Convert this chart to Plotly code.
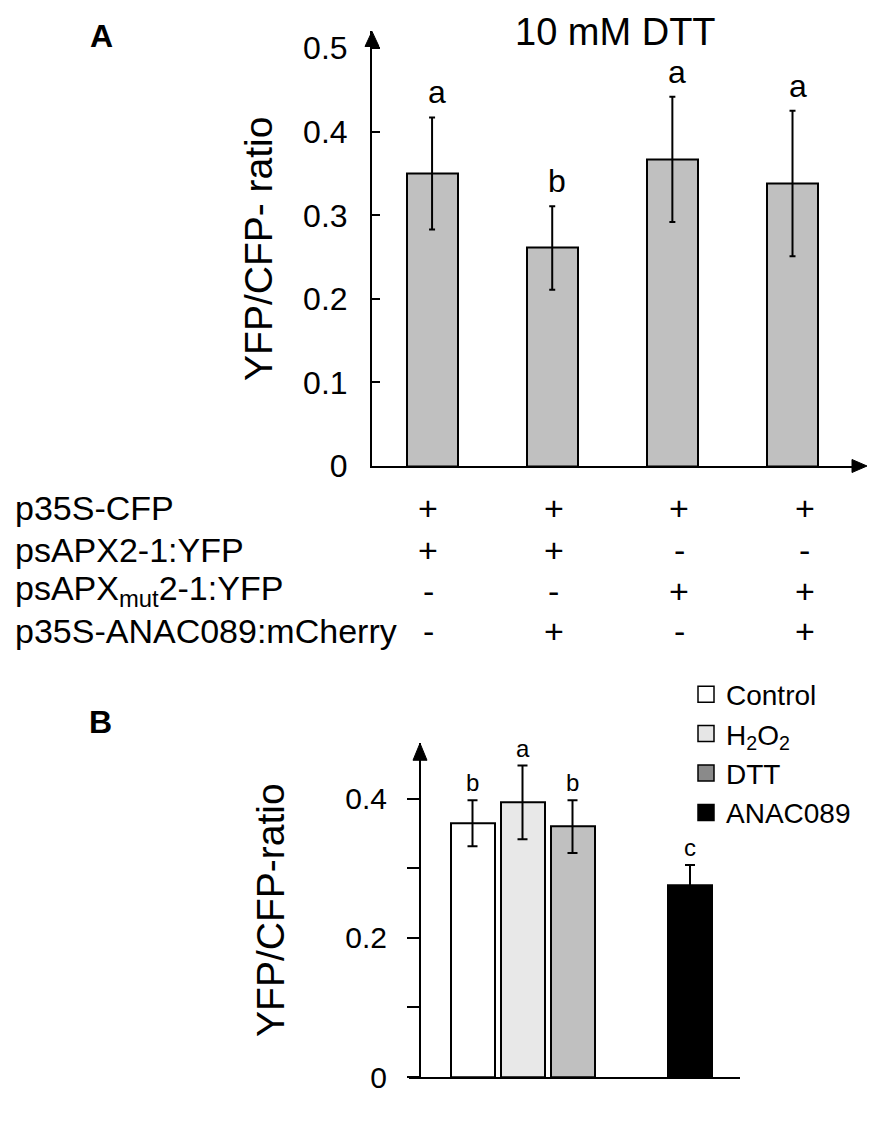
import plotly.graph_objects as go

# ---------------- data ----------------
# Panel A
a_values = [0.350, 0.261, 0.367, 0.338]
a_errors = [0.067, 0.050, 0.075, 0.087]
a_letters = ["a", "b", "a", "a"]
a_ticks = [0, 0.1, 0.2, 0.3, 0.4, 0.5]
a_ticktext = ["0", "0.1", "0.2", "0.3", "0.4", "0.5"]
a_title = "10 mM DTT"
row_labels = ["p35S-CFP", "psAPX2-1:YFP", "psAPX<sub>mut</sub>2-1:YFP", "p35S-ANAC089:mCherry"]
row_signs = [
    ["+", "+", "+", "+"],
    ["+", "+", "-", "-"],
    ["-", "-", "+", "+"],
    ["-", "+", "-", "+"],
]

# Panel B
b_categories = ["Control", "H<sub>2</sub>O<sub>2</sub>", "DTT", "ANAC089"]
b_values = [0.365, 0.395, 0.360, 0.276]
b_errors = [0.033, 0.053, 0.038, 0.029]
b_letters = ["b", "a", "b", "c"]
b_major_ticks = [0, 0.2, 0.4]
b_major_text = ["0", "0.2", "0.4"]
b_minor_ticks = [0.1, 0.3]

# ---------------- style / layout constants ----------------
W, H = 892, 1125
FONT = "Liberation Sans, Arial, sans-serif"
b_bar_colors = ["#ffffff", "#e8e8e8", "#c0c0c0", "#000000"]
b_legend_colors = ["#ffffff", "#e6e6e6", "#8a8a8a", "#000000"]
b_xpos = [0, 1, 2, 4.35]          # horizontal slot of each bar in panel B
sign_col_step, sign_col_shift = 1.044, -0.03
row_py = [516, 558, 600, 641]     # pixel rows of the construct table

# panel frames in pixels
A_LEFT, A_RIGHT, A_BOTTOM, A_TOP = 372, 860, 473, 31
A_ARROW_TIP_X = 867
B_LEFT, B_RIGHT, B_BOTTOM, B_TOP, B_YAXIS_X = 409, 740, 1094.5, 755, 420

def px_x(p):
    return p / W

def px_y(p):
    return 1 - p / H

fig = go.Figure()

# Panel A bars
a_x = list(range(len(a_values)))
fig.add_trace(go.Bar(
    x=a_x, y=a_values, width=0.424,
    marker=dict(color="#c0c0c0", line=dict(color="black", width=2)),
    error_y=dict(type="data", array=a_errors, color="black", thickness=2, width=3),
    showlegend=False, xaxis="x", yaxis="y",
))

# Panel B bars
fig.add_trace(go.Bar(
    x=b_xpos, y=b_values, width=0.88,
    marker=dict(color=b_bar_colors, line=dict(color="black", width=2)),
    error_y=dict(type="data", array=b_errors, color="black", thickness=2, width=5),
    showlegend=False, xaxis="x2", yaxis="y2",
))

# Legend entries for panel B
for name, col in zip(b_categories, b_legend_colors):
    fig.add_trace(go.Scatter(
        x=[None], y=[None], mode="markers", name=name,
        marker=dict(symbol="square", size=16, color=col, line=dict(color="black", width=1.5)),
        xaxis="x2", yaxis="y2",
    ))

ann = []
# significance letters
for i, (v, e, t) in enumerate(zip(a_values, a_errors, a_letters)):
    ann.append(dict(x=a_x[i], y=v + e + 0.03, xref="x", yref="y", text=t, showarrow=False,
                    xanchor="center", yanchor="middle", xshift=5,
                    font=dict(size=32, family=FONT)))
for i, (v, e, t) in enumerate(zip(b_values, b_errors, b_letters)):
    ann.append(dict(x=b_xpos[i], y=v + e + 0.025, xref="x2", yref="y2", text=t, showarrow=False,
                    xanchor="center", yanchor="middle",
                    font=dict(size=24, family=FONT)))

# construct table under panel A
for r, (lab, signs) in enumerate(zip(row_labels, row_signs)):
    ann.append(dict(x=px_x(13), y=px_y(row_py[r]), xref="paper", yref="paper", text=lab,
                    showarrow=False, xanchor="left", yanchor="middle",
                    font=dict(size=34, family=FONT)))
    for c, s in enumerate(signs):
        ann.append(dict(x=c * sign_col_step + sign_col_shift, y=px_y(row_py[r]), xref="x", yref="paper",
                        text=s, showarrow=False, xanchor="center", yanchor="middle",
                        font=dict(size=34, family=FONT)))

# titles / panel letters
ann.append(dict(x=px_x(615), y=px_y(32), xref="paper", yref="paper", text=a_title, showarrow=False,
                xanchor="center", yanchor="middle", font=dict(size=38, family=FONT)))
ann.append(dict(x=px_x(101), y=px_y(36), xref="paper", yref="paper", text="<b>A</b>", showarrow=False,
                xanchor="center", yanchor="middle", font=dict(size=32, family=FONT)))
ann.append(dict(x=px_x(100), y=px_y(733), xref="paper", yref="paper", text="<b>B</b>", showarrow=False,
                xanchor="center", yanchor="middle", font=dict(size=32, family=FONT)))

# axis arrowheads (filled triangles, sized in pixels, anchored at the axis ends)
shapes = [
    dict(type="path", xref="paper", yref="paper", xsizemode="pixel", ysizemode="pixel",
         xanchor=px_x(A_LEFT), yanchor=px_y(A_TOP), path="M-7,-15 L7,-15 L0,0 Z",
         fillcolor="black", line=dict(color="black", width=1)),
    dict(type="path", xref="paper", yref="paper", xsizemode="pixel", ysizemode="pixel",
         xanchor=px_x(A_ARROW_TIP_X), yanchor=px_y(A_BOTTOM), path="M-15,-6.5 L-15,6.5 L0,0 Z",
         fillcolor="black", line=dict(color="black", width=1)),
    dict(type="path", xref="paper", yref="paper", xsizemode="pixel", ysizemode="pixel",
         xanchor=px_x(B_YAXIS_X), yanchor=px_y(B_TOP), path="M-7,-17 L7,-17 L0,0 Z",
         fillcolor="black", line=dict(color="black", width=1)),
]

fig.update_layout(
    width=W, height=H,
    margin=dict(l=0, r=0, t=0, b=0),
    paper_bgcolor="white", plot_bgcolor="white",
    font=dict(family=FONT, color="black"),
    barmode="overlay",
    bargap=0,
    xaxis=dict(domain=[px_x(A_LEFT), px_x(A_RIGHT)], anchor="y",
               range=[-0.5, 3.62 - (A_ARROW_TIP_X - A_RIGHT) / 120.2],
               showline=True, linecolor="black", linewidth=2, showgrid=False, zeroline=False,
               showticklabels=False, ticks="", fixedrange=True),
    yaxis=dict(domain=[px_y(A_BOTTOM), px_y(A_TOP)], anchor="x", range=[0, 0.52],
               showline=True, linecolor="black", linewidth=2, showgrid=False, zeroline=False,
               ticks="inside", ticklen=8, tickwidth=2, tickcolor="black",
               tickvals=a_ticks, ticktext=a_ticktext, tickfont=dict(size=32, family=FONT),
               ticklabelstandoff=16,
               title=dict(text="YFP/CFP- ratio", font=dict(size=39, family=FONT), standoff=18),
               fixedrange=True),
    xaxis2=dict(domain=[px_x(B_LEFT), px_x(B_RIGHT)], anchor="y2", range=[-1.27, 5.35],
                showline=True, linecolor="black", linewidth=2, showgrid=False, zeroline=False,
                showticklabels=False, ticks="", fixedrange=True),
    yaxis2=dict(domain=[px_y(B_BOTTOM), px_y(B_TOP)], anchor="free", position=px_x(B_YAXIS_X),
                range=[0, 0.48],
                showline=True, linecolor="black", linewidth=2, showgrid=False, zeroline=False,
                ticks="outside", ticklen=12, tickwidth=2, tickcolor="black",
                tickvals=b_major_ticks, ticktext=b_major_text, tickfont=dict(size=30, family=FONT),
                minor=dict(tickvals=b_minor_ticks, ticks="outside", ticklen=12, tickwidth=2,
                           tickcolor="black", showgrid=False),
                ticklabelstandoff=14,
                title=dict(text="YFP/CFP-ratio", font=dict(size=39, family=FONT), standoff=48),
                fixedrange=True),
    legend=dict(x=px_x(686), y=px_y(680), xanchor="left", yanchor="top",
                font=dict(size=28, family=FONT), bgcolor="rgba(0,0,0,0)", borderwidth=0,
                itemclick=False, itemdoubleclick=False),
    annotations=ann,
    shapes=shapes,
)

fig.write_html("out.html", config={"displayModeBar": False},
               post_script="document.body.style.margin='0px';")
